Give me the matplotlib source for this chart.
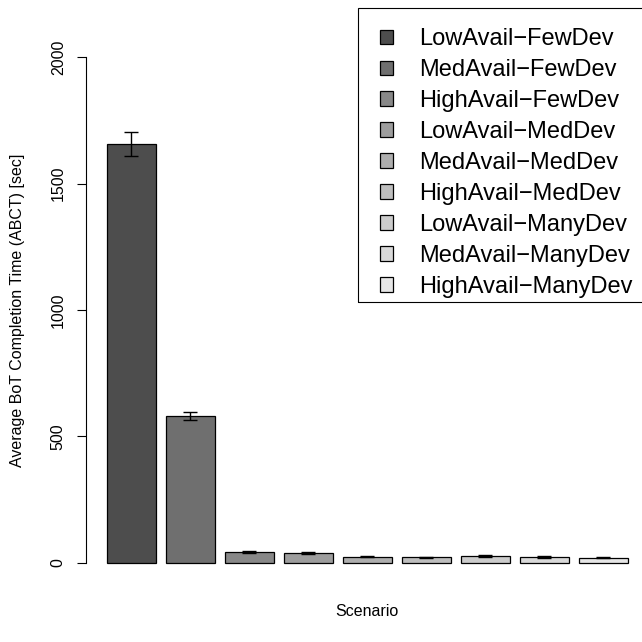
import matplotlib.pyplot as plt
import matplotlib.transforms as mtransforms
from matplotlib.patches import Rectangle
import numpy as np

plt.rcParams['font.family'] = ['Liberation Sans', 'DejaVu Sans']

scenarios = ['LowAvail\u2212FewDev', 'MedAvail\u2212FewDev', 'HighAvail\u2212FewDev',
             'LowAvail\u2212MedDev', 'MedAvail\u2212MedDev', 'HighAvail\u2212MedDev',
             'LowAvail\u2212ManyDev', 'MedAvail\u2212ManyDev', 'HighAvail\u2212ManyDev']
abct = [1656, 582, 44, 40, 24, 21, 26, 22, 20]
err = [48, 16, 4, 4, 3, 3, 3, 3, 3]

# R gray.colors(9): start 0.3, end 0.9, gamma 2.2
levels = np.linspace(0.3 ** 2.2, 0.9 ** 2.2, len(abct)) ** (1 / 2.2)
colors = [(g, g, g) for g in levels]

fig = plt.figure(figsize=(6.42, 6.42), dpi=100)
ax = fig.add_axes([86 / 642, 1 - 583 / 642, 1 - 86 / 642, (583 - 37) / 642])

x = 0.7 + 1.2 * np.arange(len(abct))
ax.bar(x, abct, width=1.0, color=colors, edgecolor='black', linewidth=0.9,
       label=scenarios)
ax.errorbar(x, abct, yerr=err, fmt='none', ecolor='black', elinewidth=1,
            capsize=5, capthick=1)

ax.set_xlim(-0.224, 0.2 + (642 - 107) / 49.15)
ax.set_ylim(-80, 2080)
for s in ['top', 'right', 'bottom']:
    ax.spines[s].set_visible(False)
ax.spines['left'].set_bounds(0, 2000)
ax.set_xticks([])
ax.set_yticks([0, 500, 1000, 1500, 2000])
ax.set_yticklabels(['0', '500', '1000', '1500', '2000'], rotation=90,
                   va='center', fontsize=11.5)
ax.tick_params(axis='y', length=6.5, pad=8)
ax.set_ylabel('Average BoT Completion Time (ABCT) [sec]', fontsize=11.5)
ax.yaxis.set_label_coords(
    18 / 642, 0.5,
    transform=mtransforms.blended_transform_factory(fig.transFigure, ax.transAxes))
ax.yaxis.label.set_va('center')
fig.text(367 / 642, 1 - 612 / 642, 'Scenario', ha='center', va='center',
         fontsize=11.5)

# legend box drawn like R's legend(), running off the right edge
fig.patches.append(Rectangle((358 / 642, 1 - 302 / 642), 300 / 642, 294 / 642,
                             transform=fig.transFigure, fill=False,
                             edgecolor='black', linewidth=0.8))
leg = ax.legend(loc='upper left', bbox_to_anchor=(380 / 642, 1 - 28 / 642),
                bbox_transform=fig.transFigure, fontsize=17, frameon=False,
                handlelength=0.55, handleheight=0.55, labelspacing=0.38,
                borderpad=0, handletextpad=1.1, borderaxespad=0)

fig.savefig('out.png', dpi=100)
